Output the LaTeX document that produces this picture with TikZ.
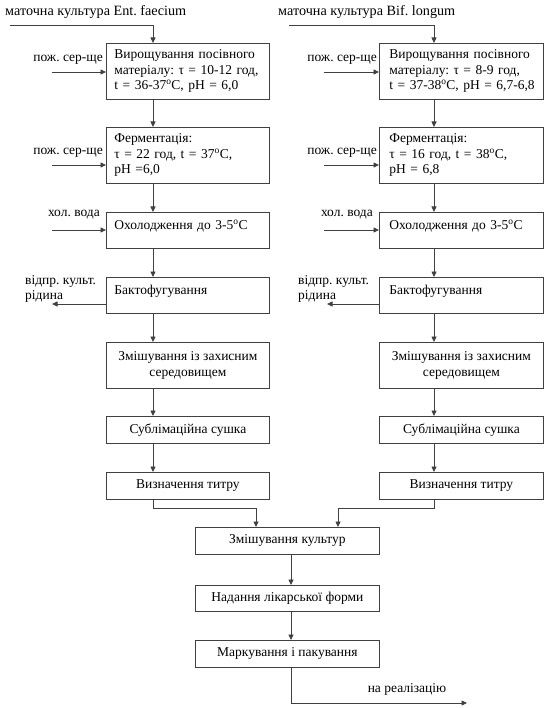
\documentclass[tikz,border=0pt]{standalone}
\usepackage{fontspec}
\setmainfont{Liberation Serif}
\usetikzlibrary{arrows.meta,calc}
\definecolor{lc}{gray}{0.25}
\newcommand\fs{\fontsize{13.5}{15.5}\selectfont}
\newcommand\fst{\fontsize{14.2}{16}\selectfont}
\newcommand\dg{\textsuperscript{o}}
\frenchspacing
\tikzset{
  ln/.style={draw=lc, line width=0.8pt},
  arr/.style={ln, -{Triangle[length=5.5pt,width=5pt]}},
  bx/.style={draw=lc, line width=0.8pt, anchor=north west, inner ysep=0pt, font=\fs},
  bxl/.style={bx, inner xsep=#1, align=left},
  bxc/.style={bx, inner xsep=0pt, align=center},
  up/.style={text depth=12pt},
  lab/.style={inner sep=0pt, font=\fs},
  ttl/.style={inner sep=0pt, font=\fst, anchor=west}
}
\begin{document}
\begin{tikzpicture}[x=1pt,y=-1pt]
\useasboundingbox[fill=white] (0,0) rectangle (550,708);
\coordinate (lx) at (153,0);
\coordinate (rx) at (434,0);
\coordinate (cx) at (291,0);
\coordinate (m1) at (256,0);
\coordinate (m2) at (338,0);
\coordinate (mY) at (0,508);
% left column
\node[bxl=8pt, text width=147pt, minimum height=56pt] (L1) at (106,43) {\mbox{Вирощування посівного}\\ \mbox{матеріалу: τ = 10-12 год,}\\ \mbox{t = 36-37\dg C, pH = 6,0}};
\node[bxl=8pt, text width=147pt, minimum height=56pt] (L2) at (106,127) {Ферментація:\\ \mbox{τ = 22 год, t = 37\dg C,}\\ pH =6,0};
\node[bxl=8pt, text width=147pt, minimum height=36pt, up] (L3) at (106,212) {\mbox{Охолодження до 3-5\dg C}};
\node[bxl=8pt, text width=147pt, minimum height=36pt, up] (L4) at (106,277) {Бактофугування};
\node[bxc, minimum width=163pt, minimum height=46pt] (L5) at (106,342) {Змішування із захисним\\ середовищем};
\node[bxc, minimum width=163pt, minimum height=27pt] (L6) at (106,416) {Сублімаційна сушка};
\node[bxc, minimum width=163pt, minimum height=27pt] (L7) at (106,472) {Визначення титру};
% right column
\node[bxl=10pt, text width=144pt, minimum height=56pt] (R1) at (379,43) {\mbox{Вирощування посівного}\\ \mbox{матеріалу: τ = 8-9 год,}\\ \mbox{t = 37-38\dg C, pH = 6,7-6,8}};
\node[bxl=10pt, text width=144pt, minimum height=56pt] (R2) at (379,127) {Ферментація:\\ \mbox{τ = 16 год, t = 38\dg C,}\\ pH = 6,8};
\node[bxl=10pt, text width=144pt, minimum height=36pt, up] (R3) at (379,212) {\mbox{Охолодження до 3-5\dg C}};
\node[bxl=10pt, text width=144pt, minimum height=36pt, up] (R4) at (379,277) {Бактофугування};
\node[bxc, minimum width=164pt, minimum height=46pt] (R5) at (379,342) {Змішування із захисним\\ середовищем};
\node[bxc, minimum width=164pt, minimum height=27pt] (R6) at (379,416) {Сублімаційна сушка};
\node[bxc, minimum width=164pt, minimum height=27pt] (R7) at (379,472) {Визначення титру};
% common
\node[bxc, minimum width=184pt, minimum height=27pt] (B8) at (195,527) {Змішування культур};
\node[bxc, minimum width=184pt, minimum height=26pt] (B9) at (195,585) {Надання лікарської форми};
\node[bxc, minimum width=184pt, minimum height=27pt] (B10) at (195,640) {Маркування і пакування};
% labels
\node[ttl] (tiL) at (5,12) {маточна культура Ent. faecium};
\node[ttl] (tiR) at (278,12) {маточна культура Bif. longum};
\node[lab, anchor=east] (pL1) at (103,60) {пож. сер-ще};
\node[lab, anchor=east] (pL2) at (103,153) {пож. сер-ще};
\node[lab, anchor=east] (hL) at (100,215) {хол. вода};
\node[lab, anchor=west, align=left] (vL) at (25,289) {відпр. культ.\\ рідина};
\node[lab, anchor=east] (pR1) at (377,60) {пож. сер-ще};
\node[lab, anchor=east] (pR2) at (377,153) {пож. сер-ще};
\node[lab, anchor=east] (hR) at (373,215) {хол. вода};
\node[lab, anchor=west, align=left] (vR) at (298,289) {відпр. культ.\\ рідина};
\node[lab] (real) at (407,689) {на реалізацію};
% free ends
\coordinate (tL) at (10,25);
\coordinate (tR) at (289,25);
\coordinate (iL1) at (52,72);
\coordinate (iL2) at (52,165);
\coordinate (iL3) at (52,230);
\coordinate (oL) at (52,304);
\coordinate (iR1) at (324,72);
\coordinate (iR2) at (324,165);
\coordinate (iR3) at (324,230);
\coordinate (oR) at (327,304);
\coordinate (fin) at (467,703);
% connectors left
\draw[arr] (tL) -| (L1.north -| lx);
\draw[arr] (L1.south -| lx) -- (L2.north -| lx);
\draw[arr] (L2.south -| lx) -- (L3.north -| lx);
\draw[arr] (L3.south -| lx) -- (L4.north -| lx);
\draw[arr] (L4.south -| lx) -- (L5.north -| lx);
\draw[arr] (L5.south -| lx) -- (L6.north -| lx);
\draw[arr] (L6.south -| lx) -- (L7.north -| lx);
\draw[arr] (L7.south -| lx) -- (lx |- mY) -| (B8.north -| m1);
\draw[arr] (iL1) -- (iL1 -| L1.west);
\draw[arr] (iL2) -- (iL2 -| L2.west);
\draw[arr] (iL3) -- (iL3 -| L3.west);
\draw[arr] (oL -| L4.west) -- (oL);
% connectors right
\draw[arr] (tR) -| (R1.north -| rx);
\draw[arr] (R1.south -| rx) -- (R2.north -| rx);
\draw[arr] (R2.south -| rx) -- (R3.north -| rx);
\draw[arr] (R3.south -| rx) -- (R4.north -| rx);
\draw[arr] (R4.south -| rx) -- (R5.north -| rx);
\draw[arr] (R5.south -| rx) -- (R6.north -| rx);
\draw[arr] (R6.south -| rx) -- (R7.north -| rx);
\draw[arr] (R7.south -| rx) -- (rx |- mY) -| (B8.north -| m2);
\draw[arr] (iR1) -- (iR1 -| R1.west);
\draw[arr] (iR2) -- (iR2 -| R2.west);
\draw[arr] (iR3) -- (iR3 -| R3.west);
\draw[arr] (oR -| R4.west) -- (oR);
% common
\draw[arr] (B8.south -| cx) -- (B9.north -| cx);
\draw[arr] (B9.south -| cx) -- (B10.north -| cx);
\draw[arr] (B10.south -| cx) |- (fin);
\end{tikzpicture}
\end{document}
